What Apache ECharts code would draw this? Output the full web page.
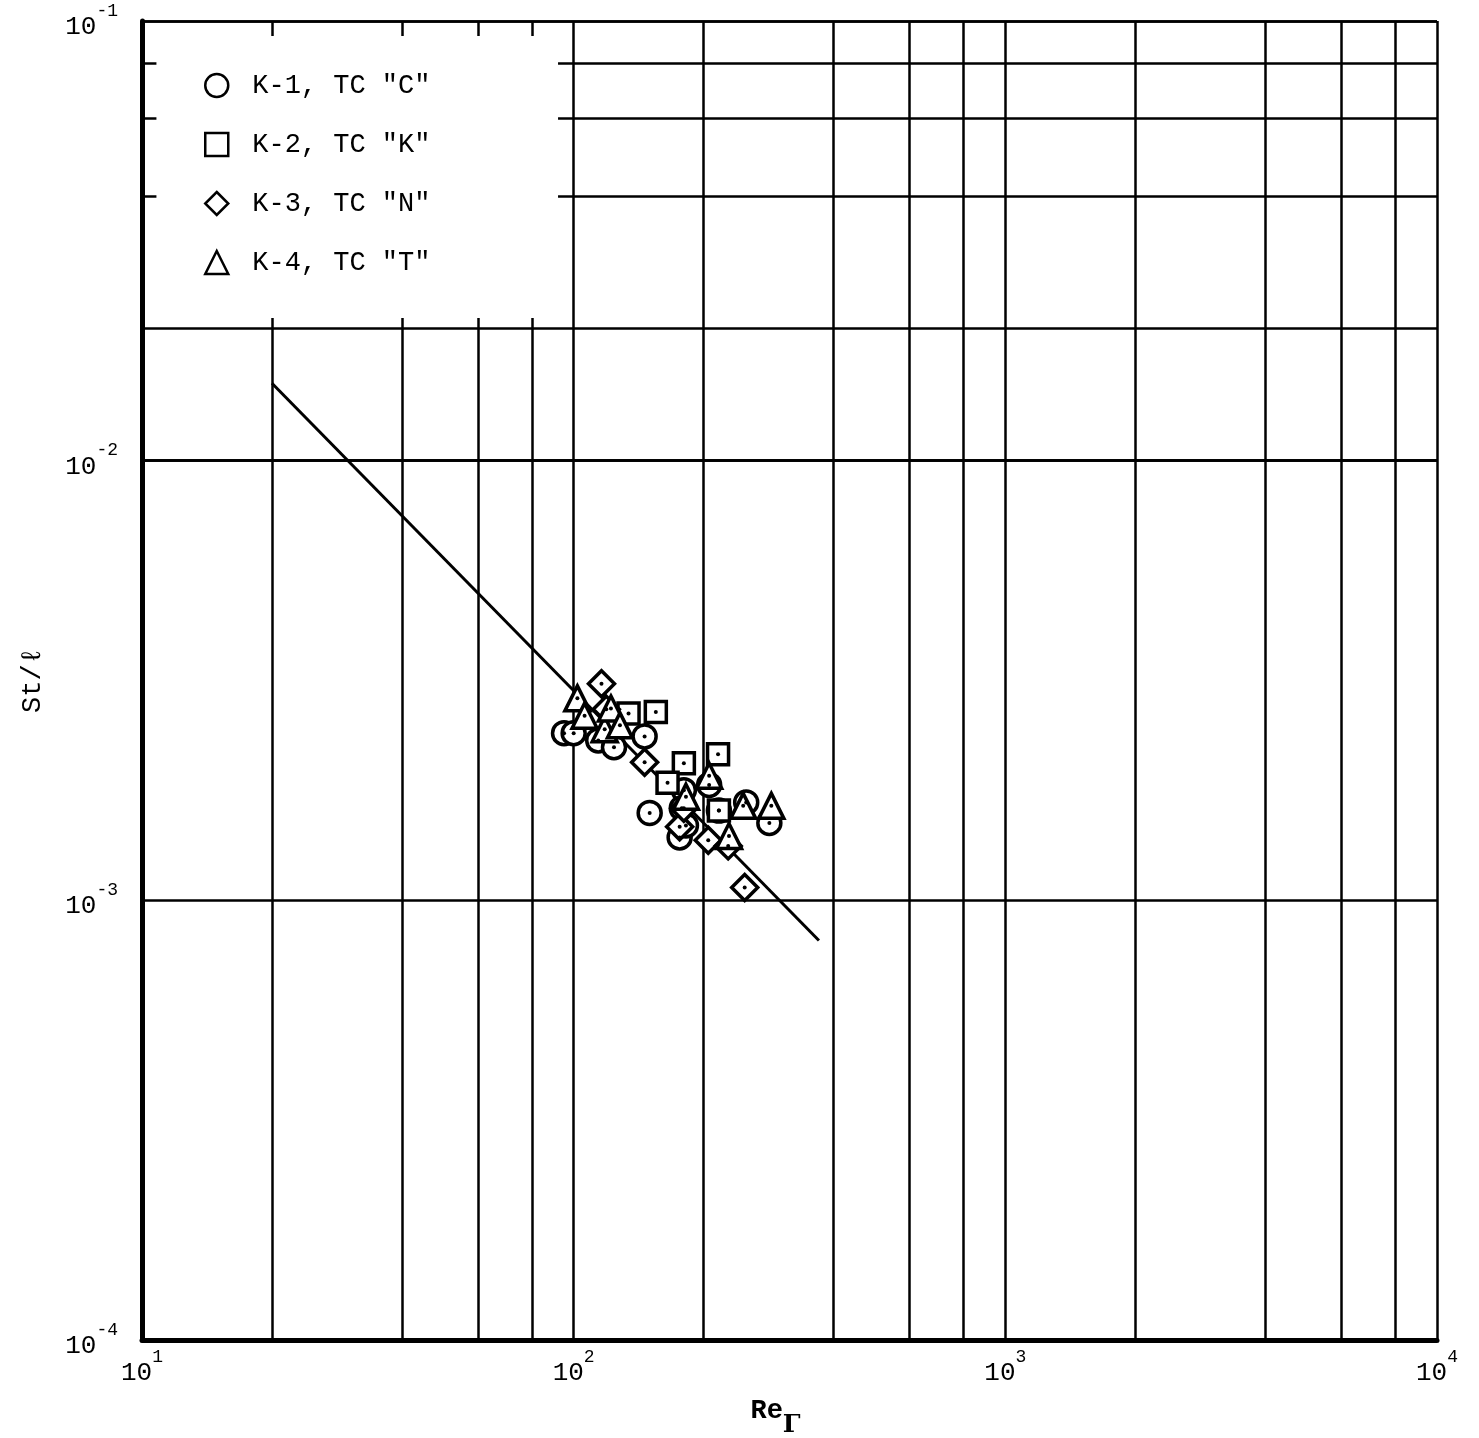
<!DOCTYPE html>
<html>
<head>
<meta charset="utf-8">
<script src="https://cdn.jsdelivr.net/npm/echarts@6/dist/echarts.min.js"></script>
<style>
  html, body { margin: 0; padding: 0; background: #fff; }
  #chart { width: 1479px; height: 1438px; }
</style>
</head>
<body>
<div id="chart"></div>
<script>
// Series names as printed in the key
const seriesNames = ['K-1, TC "C"', 'K-2, TC "K"', 'K-3, TC "N"', 'K-4, TC "T"'];

// [Re_Γ, St/ℓ] readings for each thermocouple
const k1Points = [
  [95, 0.00240], [100, 0.00240], [114, 0.00231], [124, 0.00223], [146, 0.00236],
  [150, 0.00158], [176, 0.00139], [180, 0.00178], [178, 0.00162], [182, 0.00148],
  [206, 0.00183], [217, 0.00160], [251, 0.00167], [284, 0.00150]
];
const k2Points = [
  [134, 0.00266], [155, 0.00268], [180, 0.00205], [216, 0.00215],
  [165, 0.00185], [217, 0.00160]
];
const k3Points = [
  [116, 0.00311], [119, 0.00272], [146, 0.00206], [176, 0.00147], [180, 0.00162],
  [205, 0.00137], [228, 0.00133], [249, 0.00107]
];
const k4Points = [
  [102, 0.00288], [106, 0.00263], [118, 0.00245], [122, 0.00273], [128, 0.00250],
  [182, 0.00172], [206, 0.00192], [229, 0.00140], [247, 0.00164], [287, 0.00164]
];

// Correlation line St/ℓ = 0.3 / Re_Γ, drawn between its end points
const fitLine = [[20, 0.015], [370, 0.00081]];

// Intermediate grid values (2, 4, 6, 8 within each decade)
const xMinorGrid = [20, 40, 60, 80, 200, 400, 600, 800, 2000, 4000, 6000, 8000];
const yMinorGrid = [0.0002, 0.0004, 0.0006, 0.0008, 0.002, 0.004, 0.006, 0.008, 0.02, 0.04, 0.06, 0.08];

const symbols = ['circle', 'rect', 'diamond', 'triangle'];
const symbolSizes = [23, 21, 26, 25];
const pointSets = [k1Points, k2Points, k3Points, k4Points];

const MONO = '"Liberation Mono", "DejaVu Sans Mono", monospace';

function powerLabel(v) {
  const e = Math.round(Math.log10(v));
  return '{b|10}{s|' + (e < 0 ? '-' + (-e) : e) + '}';
}
const powerRich = {
  b: { fontFamily: MONO, fontSize: 26, color: '#000', lineHeight: 38, verticalAlign: 'bottom' },
  s: { fontFamily: MONO, fontSize: 18, color: '#000', lineHeight: 14, verticalAlign: 'top' }
};

const chart = echarts.init(document.getElementById('chart'), null, { renderer: 'canvas' });

const series = [];

// correlation line + intermediate grid + white key panel
series.push({
  type: 'line',
  name: 'fit',
  data: fitLine,
  symbol: 'none',
  silent: true,
  z: 3,
  lineStyle: { color: '#000', width: 3 },
  markLine: {
    silent: true,
    symbol: ['none', 'none'],
    label: { show: false },
    z: 1,
    animation: false,
    lineStyle: { color: '#000', width: 2.5, type: 'solid' },
    data: xMinorGrid.map(v => ({ xAxis: v })).concat(yMinorGrid.map(v => ({ yAxis: v })))
  },
  markArea: {
    silent: true,
    z: 2,
    animation: false,
    itemStyle: { color: '#fff', opacity: 1 },
    label: { show: false },
    data: [[{ coord: [10.8, 0.0925] }, { coord: [92, 0.0211] }]]
  }
});

pointSets.forEach((pts, i) => {
  series.push({
    type: 'scatter',
    name: seriesNames[i],
    data: pts,
    symbol: symbols[i],
    symbolSize: symbolSizes[i],
    z: 5,
    itemStyle: { color: '#fff', borderColor: '#000', borderWidth: 3.5, opacity: 1 },
    emphasis: { disabled: true }
  });
});

// centre dot of every plotted symbol
series.push({
  type: 'scatter',
  name: 'centres',
  data: [].concat(k1Points, k2Points, k3Points, k4Points),
  symbol: 'circle',
  symbolSize: 4,
  z: 6,
  itemStyle: { color: '#000', opacity: 1 },
  emphasis: { disabled: true }
});

chart.setOption({
  backgroundColor: '#fff',
  animation: false,
  grid: { left: 142, right: 42, top: 21, bottom: 98, containLabel: false, outerBoundsMode: 'none' },
  legend: {
    data: seriesNames,
    orient: 'vertical',
    left: 199,
    top: 67,
    itemWidth: 23,
    itemHeight: 23,
    itemGap: 32,
    selectedMode: false,
    itemStyle: { color: '#fff', borderColor: '#000', borderWidth: 2.5, opacity: 1 },
    textStyle: { fontFamily: MONO, fontSize: 27, color: '#000', padding: [0, 0, 0, 19] }
  },
  xAxis: {
    type: 'log',
    logBase: 10,
    min: 10,
    max: 10000,
    name: '{r|Re}{g|Γ}',
    nameLocation: 'middle',
    nameGap: 58,
    nameTextStyle: {
      padding: [0, 28, 0, 0],
      rich: {
        r: { fontFamily: MONO, fontSize: 27, fontWeight: 'bold', color: '#000', lineHeight: 40, verticalAlign: 'top' },
        g: { fontFamily: '"DejaVu Serif", serif', fontSize: 25, fontWeight: 'bold', color: '#000', lineHeight: 22, verticalAlign: 'bottom' }
      }
    },
    axisLine: { show: true, lineStyle: { color: '#000', width: 5 } },
    axisTick: { show: false },
    splitLine: { show: true, lineStyle: { color: '#000', width: 2.5 } },
    axisLabel: { formatter: powerLabel, rich: powerRich, margin: 8, color: '#000' }
  },
  yAxis: {
    type: 'log',
    logBase: 10,
    min: 0.0001,
    max: 0.1,
    name: 'St/ℓ',
    nameLocation: 'middle',
    nameGap: 96,
    nameRotate: 90,
    nameTextStyle: { fontFamily: MONO, fontSize: 27, color: '#000' },
    axisLine: { show: true, lineStyle: { color: '#000', width: 5 } },
    axisTick: { show: false },
    splitLine: { show: true, lineStyle: { color: '#000', width: 2.5 } },
    axisLabel: { formatter: powerLabel, rich: powerRich, margin: 24, color: '#000' }
  },
  series: series
});
</script>
</body>
</html>
